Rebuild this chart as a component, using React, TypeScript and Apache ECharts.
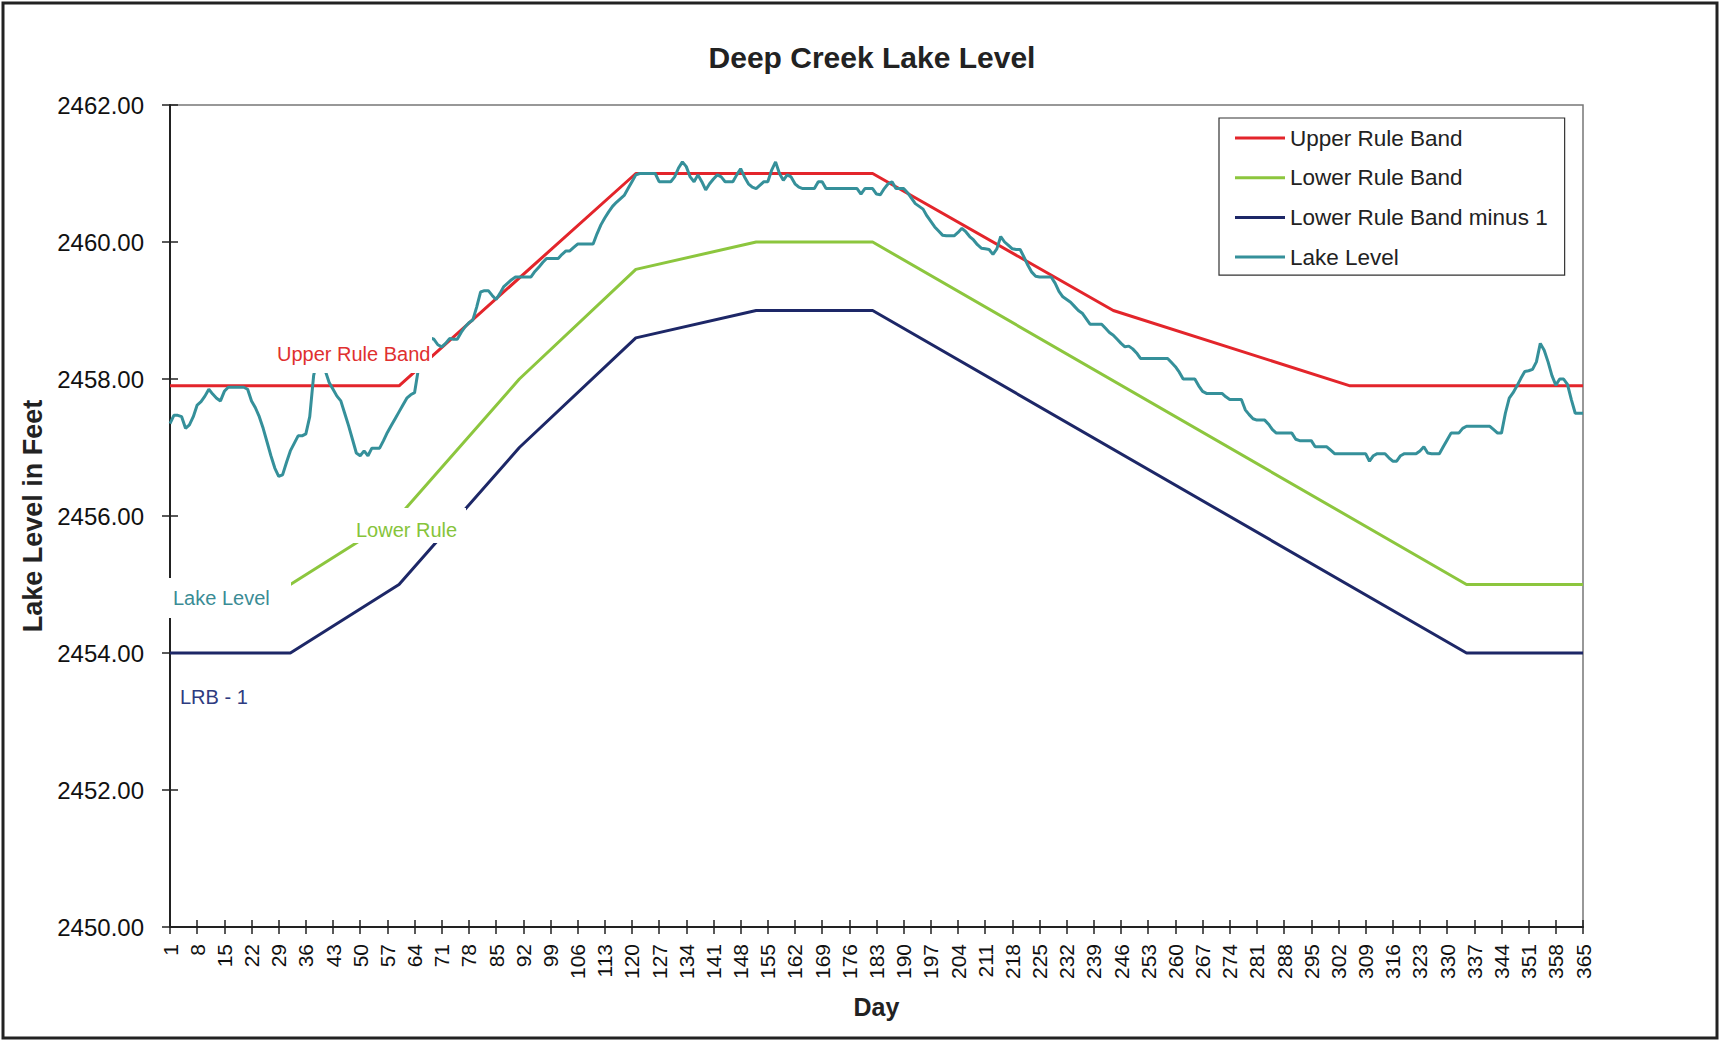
import React, { useEffect, useRef } from "react";
import * as echarts from "echarts";

// ---------- data ----------
const TITLE = "Deep Creek Lake Level";
const DAYS: string[] = Array.from({ length: 365 }, (_, i) => String(i + 1));
const Y_MIN = 2450;
const Y_MAX = 2462;
const Y_STEP = 2;

const SERIES_NAMES = ["Upper Rule Band", "Lower Rule Band", "Lower Rule Band minus 1", "Lake Level"];

// rule bands: [day, level]
const upperRuleBand: [string, number][] = [
  ["1", 2457.9], ["60", 2457.9], ["121", 2461.0], ["182", 2461.0],
  ["244", 2459.0], ["305", 2457.9], ["365", 2457.9],
];
const lowerRuleBand: [string, number][] = [
  ["1", 2455.0], ["32", 2455.0], ["60", 2456.0], ["91", 2458.0], ["121", 2459.6],
  ["152", 2460.0], ["182", 2460.0], ["335", 2455.0], ["365", 2455.0],
];
const lowerRuleBandMinus1: [string, number][] = [
  ["1", 2454.0], ["32", 2454.0], ["60", 2455.0], ["91", 2457.0], ["121", 2458.6],
  ["152", 2459.0], ["182", 2459.0], ["335", 2454.0], ["365", 2454.0],
];

// daily lake level, day 1..365
const lakeLevel: number[] = [
  2457.35, 2457.47, 2457.47, 2457.45, 2457.28, 2457.33, 2457.45, 2457.62, 2457.67, 2457.75,
  2457.85, 2457.78, 2457.72, 2457.68, 2457.82, 2457.88, 2457.88, 2457.88, 2457.88, 2457.88,
  2457.85, 2457.68, 2457.58, 2457.45, 2457.28, 2457.08, 2456.88, 2456.70, 2456.58, 2456.60,
  2456.78, 2456.95, 2457.06, 2457.17, 2457.17, 2457.20, 2457.45, 2458.05, 2458.30, 2458.30,
  2458.12, 2457.95, 2457.85, 2457.75, 2457.68, 2457.50, 2457.32, 2457.12, 2456.92, 2456.88,
  2456.95, 2456.88, 2456.99, 2456.99, 2456.99, 2457.10, 2457.22, 2457.32, 2457.42, 2457.52,
  2457.62, 2457.72, 2457.77, 2457.80, 2458.15, 2458.35, 2458.50, 2458.60, 2458.58, 2458.50,
  2458.47, 2458.52, 2458.59, 2458.58, 2458.58, 2458.68, 2458.76, 2458.82, 2458.86, 2459.05,
  2459.27, 2459.29, 2459.29, 2459.22, 2459.16, 2459.25, 2459.35, 2459.40, 2459.45, 2459.49,
  2459.49, 2459.49, 2459.49, 2459.49, 2459.57, 2459.63, 2459.70, 2459.76, 2459.76, 2459.76,
  2459.76, 2459.82, 2459.87, 2459.87, 2459.92, 2459.97, 2459.97, 2459.97, 2459.97, 2459.97,
  2460.12, 2460.25, 2460.35, 2460.44, 2460.52, 2460.58, 2460.63, 2460.68, 2460.78, 2460.88,
  2460.98, 2461.00, 2461.00, 2461.00, 2461.00, 2461.00, 2460.88, 2460.88, 2460.88, 2460.88,
  2460.95, 2461.08, 2461.17, 2461.10, 2460.95, 2460.88, 2460.98, 2460.88, 2460.76, 2460.85,
  2460.92, 2460.98, 2460.95, 2460.88, 2460.88, 2460.88, 2460.98, 2461.07, 2460.95, 2460.85,
  2460.80, 2460.78, 2460.83, 2460.88, 2460.88, 2461.05, 2461.17, 2461.00, 2460.90, 2460.98,
  2460.95, 2460.85, 2460.80, 2460.78, 2460.78, 2460.78, 2460.78, 2460.88, 2460.88, 2460.78,
  2460.78, 2460.78, 2460.78, 2460.78, 2460.78, 2460.78, 2460.78, 2460.78, 2460.70, 2460.78,
  2460.78, 2460.78, 2460.70, 2460.69, 2460.78, 2460.85, 2460.88, 2460.78, 2460.78, 2460.78,
  2460.72, 2460.64, 2460.56, 2460.52, 2460.48, 2460.38, 2460.30, 2460.22, 2460.16, 2460.10,
  2460.09, 2460.09, 2460.09, 2460.14, 2460.20, 2460.15, 2460.08, 2460.03, 2459.96, 2459.91,
  2459.90, 2459.89, 2459.82, 2459.90, 2460.08, 2460.00, 2459.95, 2459.90, 2459.89, 2459.89,
  2459.78, 2459.66, 2459.56, 2459.50, 2459.49, 2459.49, 2459.49, 2459.49, 2459.40, 2459.28,
  2459.20, 2459.16, 2459.12, 2459.06, 2459.00, 2458.96, 2458.88, 2458.80, 2458.80, 2458.80,
  2458.80, 2458.74, 2458.68, 2458.64, 2458.58, 2458.52, 2458.47, 2458.48, 2458.44, 2458.38,
  2458.30, 2458.30, 2458.30, 2458.30, 2458.30, 2458.30, 2458.30, 2458.30, 2458.24, 2458.18,
  2458.10, 2458.00, 2458.00, 2458.00, 2458.00, 2457.90, 2457.82, 2457.79, 2457.79, 2457.79,
  2457.79, 2457.79, 2457.74, 2457.70, 2457.70, 2457.70, 2457.70, 2457.55, 2457.48, 2457.42,
  2457.40, 2457.40, 2457.40, 2457.34, 2457.26, 2457.21, 2457.21, 2457.21, 2457.21, 2457.21,
  2457.12, 2457.10, 2457.10, 2457.10, 2457.10, 2457.01, 2457.01, 2457.01, 2457.01, 2456.96,
  2456.91, 2456.91, 2456.91, 2456.91, 2456.91, 2456.91, 2456.91, 2456.91, 2456.91, 2456.80,
  2456.88, 2456.91, 2456.91, 2456.91, 2456.85, 2456.80, 2456.80, 2456.88, 2456.91, 2456.91,
  2456.91, 2456.91, 2456.95, 2457.01, 2456.92, 2456.91, 2456.91, 2456.91, 2457.01, 2457.11,
  2457.21, 2457.21, 2457.21, 2457.28, 2457.31, 2457.31, 2457.31, 2457.31, 2457.31, 2457.31,
  2457.31, 2457.26, 2457.21, 2457.21, 2457.50, 2457.72, 2457.80, 2457.90, 2458.01, 2458.11,
  2458.12, 2458.14, 2458.25, 2458.52, 2458.42, 2458.25, 2458.05, 2457.91, 2458.00, 2458.00,
  2457.92, 2457.70, 2457.50, 2457.50, 2457.50,
];

// in-chart annotation labels
const ANNOTATIONS = ["Upper Rule Band", "Lower Rule", "Lake Level", "LRB - 1"];

// ---------- styles ----------
const FONT = '"Liberation Sans", Arial, Helvetica, sans-serif';
const COLORS = ["#e3252b", "#8cc63e", "#1d2767", "#35909a"];
const LABEL_COLORS = ["#e0302f", "#86c43a", "#3a8c95", "#2e3b80"];

export default function App() {
  const ref = useRef<HTMLDivElement>(null);

  useEffect(() => {
    if (!ref.current) return;
    const chart = echarts.init(ref.current, undefined, { renderer: "svg" });

    const tickStyle = { color: "#222", width: 1.5 };

    const option: any = {
      animation: false,
      backgroundColor: "#ffffff",
      title: {
        text: TITLE,
        left: 867,
        top: 37,
        textAlign: "center",
        textStyle: { fontFamily: FONT, fontWeight: "bold", fontSize: 30, color: "#222" },
      },
      legend: {
        orient: "vertical",
        left: 1219,
        top: 118,
        padding: [8, 17, 6, 16],
        itemGap: 15.7,
        itemWidth: 50,
        itemHeight: 3,
        icon: "rect",
        borderColor: "#333",
        borderWidth: 1.2,
        backgroundColor: "#fff",
        textStyle: { fontFamily: FONT, fontSize: 22.5, color: "#222", lineHeight: 24 },
        data: SERIES_NAMES,
      },
      grid: {
        left: 170,
        top: 105,
        right: 138,
        bottom: 114,
        show: true,
        borderColor: "#777",
        borderWidth: 1.5,
        containLabel: false,
      },
      xAxis: [
        {
          type: "category",
          data: DAYS,
          boundaryGap: false,
          name: "Day",
          nameLocation: "middle",
          nameGap: 67,
          nameTextStyle: { fontFamily: FONT, fontWeight: "bold", fontSize: 25, color: "#222" },
          axisLine: { lineStyle: { color: "#222", width: 2 } },
          axisTick: { interval: 6, length: 7, lineStyle: tickStyle },
          axisLabel: { interval: 6, rotate: 90, margin: 17, fontFamily: FONT, fontSize: 21, color: "#111" },
          splitLine: { show: false },
        },
        {
          type: "category",
          data: DAYS,
          boundaryGap: false,
          position: "bottom",
          axisLine: { show: false },
          axisTick: { inside: true, interval: 6, length: 7, lineStyle: tickStyle },
          axisLabel: { show: false },
          splitLine: { show: false },
        },
      ],
      yAxis: [
        {
          type: "value",
          min: Y_MIN,
          max: Y_MAX,
          interval: Y_STEP,
          name: "Lake Level in Feet",
          nameLocation: "middle",
          nameGap: 117,
          nameTextStyle: { fontFamily: FONT, fontWeight: "bold", fontSize: 27, color: "#222" },
          axisLine: { show: true, lineStyle: { color: "#222", width: 2 } },
          axisTick: { show: true, length: 8, lineStyle: tickStyle },
          axisLabel: {
            margin: 26,
            fontFamily: FONT,
            fontSize: 24,
            color: "#111",
            formatter: (v: number) => v.toFixed(2),
          },
          splitLine: { show: false },
        },
        {
          type: "value",
          min: Y_MIN,
          max: Y_MAX,
          interval: Y_STEP,
          position: "left",
          axisLine: { show: false },
          axisTick: { show: true, inside: true, length: 8, lineStyle: tickStyle },
          axisLabel: { show: false },
          splitLine: { show: false },
        },
      ],
      series: [
        { name: SERIES_NAMES[0], type: "line", data: upperRuleBand, color: COLORS[0] },
        { name: SERIES_NAMES[1], type: "line", data: lowerRuleBand, color: COLORS[1] },
        { name: SERIES_NAMES[2], type: "line", data: lowerRuleBandMinus1, color: COLORS[2] },
        { name: SERIES_NAMES[3], type: "line", data: lakeLevel, color: COLORS[3] },
      ].map((s) => ({
        ...s,
        xAxisIndex: 0,
        yAxisIndex: 0,
        symbol: "none",
        showSymbol: false,
        lineStyle: { width: 3, color: s.color },
        itemStyle: { color: s.color },
        z: 3,
      })),
      graphic: [
        {
          type: "rect",
          shape: { x: 3, y: 3, width: 1714, height: 1035 },
          style: { fill: "none", stroke: "#222", lineWidth: 3 },
          silent: true,
          z: 0,
        },
        // label boxes covering the lines
        { type: "rect", shape: { x: 272, y: 334, width: 160, height: 39 }, style: { fill: "#fff" }, z: 100 },
        { type: "rect", shape: { x: 352, y: 508, width: 114, height: 35 }, style: { fill: "#fff" }, z: 100 },
        { type: "rect", shape: { x: 160, y: 578, width: 131, height: 40 }, style: { fill: "#fff" }, z: 100 },
        { type: "rect", shape: { x: 176, y: 680, width: 76, height: 34 }, style: { fill: "#fff" }, z: 100 },
        {
          type: "text", x: 277, y: 354, z: 101,
          style: { text: ANNOTATIONS[0], fill: LABEL_COLORS[0], font: `20px ${FONT}`, align: "left", verticalAlign: "middle", textAlign: "left", textVerticalAlign: "middle" },
        },
        {
          type: "text", x: 356, y: 530, z: 101,
          style: { text: ANNOTATIONS[1], fill: LABEL_COLORS[1], font: `20px ${FONT}`, align: "left", verticalAlign: "middle", textAlign: "left", textVerticalAlign: "middle" },
        },
        {
          type: "text", x: 173, y: 598, z: 101,
          style: { text: ANNOTATIONS[2], fill: LABEL_COLORS[2], font: `20px ${FONT}`, align: "left", verticalAlign: "middle", textAlign: "left", textVerticalAlign: "middle" },
        },
        {
          type: "text", x: 180, y: 697, z: 101,
          style: { text: ANNOTATIONS[3], fill: LABEL_COLORS[3], font: `20px ${FONT}`, align: "left", verticalAlign: "middle", textAlign: "left", textVerticalAlign: "middle" },
        },
      ],
    };

    chart.setOption(option);
    return () => chart.dispose();
  }, []);

  return (
    <div
      ref={ref}
      style={{ position: "fixed", left: 0, top: 0, width: 1721, height: 1041, background: "#fff" }}
    />
  );
}
